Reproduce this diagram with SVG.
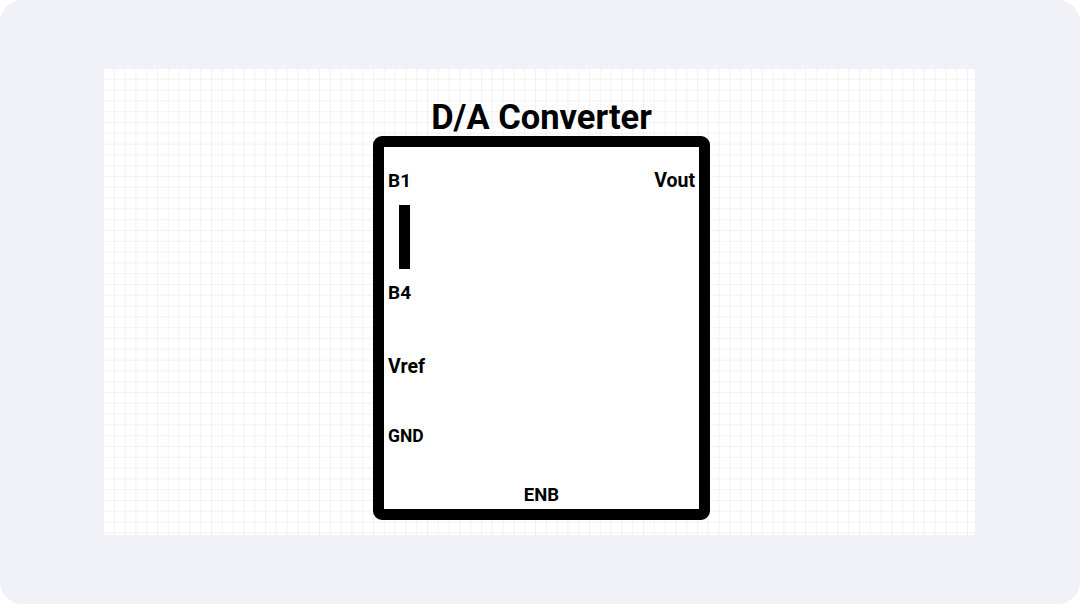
<svg xmlns="http://www.w3.org/2000/svg" width="1080" height="604" viewBox="0 0 1080 604">
  <defs>
    <pattern id="grid" x="103" y="68" width="10.8" height="10.8" patternUnits="userSpaceOnUse">
      <path d="M0 0H10.8M0 0V10.8" fill="none" stroke="#e4e6eb" stroke-width="1"/>
    </pattern>
    <style>
      .lbl { font-family: Roboto, "Liberation Sans", sans-serif; font-weight: bold; fill: #000; }
    </style>
  </defs>
  <rect x="0" y="0" width="1080" height="604" fill="#ffffff"/>
  <rect x="0" y="0" width="1080" height="604" rx="22" fill="#f1f2f7"/>
  <rect x="103" y="68" width="872" height="467" fill="#ffffff"/>
  <rect x="103" y="68" width="872" height="467" fill="url(#grid)"/>

  <g id="dac">
    <rect x="378.5" y="141.5" width="326" height="373" rx="3.5" fill="#ffffff" stroke="#000" stroke-width="11"/>
    <text class="lbl" x="541.5" y="128.5" font-size="34.5" text-anchor="middle">D/A Converter</text>
    <text class="lbl" x="388" y="186.5" font-size="19">B1</text>
    <text class="lbl" x="695" y="186.5" font-size="19.5" text-anchor="end">Vout</text>
    <rect x="399" y="205" width="11" height="64" fill="#000"/>
    <text class="lbl" x="388" y="299" font-size="19">B4</text>
    <text class="lbl" x="388" y="372.5" font-size="19.5">Vref</text>
    <text class="lbl" x="388" y="441.5" font-size="17.5">GND</text>
    <text class="lbl" x="541.5" y="500.5" font-size="18.5" text-anchor="middle">ENB</text>
  </g>
  <g id="connectors"></g>
</svg>
